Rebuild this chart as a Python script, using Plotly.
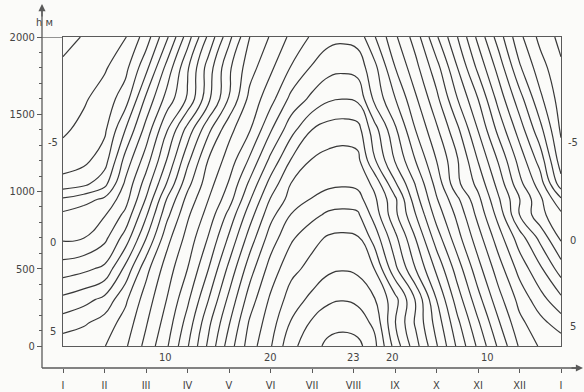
import plotly.graph_objects as go

# ---------------- data ----------------
# month position (0 = 1 January, 12 = 1 January of the next year)
months = [0, 0.5, 1, 1.5, 2, 2.5, 3, 3.5, 4, 4.5, 5, 5.5, 6, 6.4, 6.75, 7.1,
          7.5, 8, 8.5, 9, 9.5, 10, 10.5, 11, 11.5, 12]
# altitude, m
altitudes = [0, 150, 300, 500, 700, 850, 950, 1050, 1200, 1400, 1600, 1800, 2000]

# temperature (deg C) read from the isopleths, one list per altitude
t0000 = [5.6, 5.78, 5.96, 6.84, 8.3, 9.86, 11.9, 14.19, 16.48, 18.5, 19.9, 21.75, 22.55,
         23.3, 23.47, 23.3, 22.3, 19.6, 17.37, 15.1, 12.83, 10.8, 8.8, 6.87, 5.88, 5.6]
t0150 = [4.5, 4.85, 5.43, 6.4, 7.9, 9.44, 11.4, 13.74, 15.92, 18.14, 19.55, 21.1, 22.14,
         22.55, 22.68, 22.5, 21.8, 19.05, 16.84, 14.6, 12.26, 10.15, 8.1, 6.27, 5.31, 4.5]
t0300 = [3.25, 3.66, 4.28, 5.8, 7.48, 9.02, 10.8, 12.97, 15.26, 17.5, 19.17, 20.46, 21.28,
         21.85, 21.96, 21.8, 21.09, 19.37, 16.9, 14.0, 11.53, 9.37, 7.36, 5.68, 4.4, 3.25]
t0500 = [1.5, 1.77, 2.22, 4.25, 6.67, 8.48, 10.0, 11.97, 14.26, 16.56, 18.41, 19.72, 20.31,
         20.8, 20.93, 20.78, 20.0, 17.27, 14.97, 12.78, 10.53, 8.37, 6.45, 4.64, 3.18, 1.5]
t0700 = [-0.18, -0.02, 0.73, 2.4, 4.96, 7.63, 9.36, 11.06, 13.15, 15.44, 17.47, 18.84, 19.7,
         20.12, 20.2, 20.1, 18.6, 16.28, 13.96, 11.5, 9.39, 7.43, 5.44, 3.48, 1.71, -0.18]
t0850 = [-0.78, -0.43, -0.08, 1.25, 3.84, 6.7, 8.82, 10.39, 12.3, 14.56, 16.67, 18.04, 18.69,
         19.2, 19.3, 19.18, 17.6, 15.26, 13.0, 10.6, 8.75, 6.7, 4.6, 2.0, 0.3, -0.78]
t0950 = [-1.85, -1.39, -0.81, 0.58, 3.08, 6.03, 8.33, 9.98, 11.56, 13.89, 16.06, 17.4, 18.07,
         18.4, 18.49, 18.38, 17.22, 15.21, 12.4, 10.1, 8.2, 6.27, 4.1, 2.04, 0.2, -1.85]
t1050 = [-3.6, -3.27, -2.34, 0.18, 2.46, 5.05, 7.67, 9.58, 11.1, 13.22, 15.37, 17.04, 17.38,
         17.8, 17.88, 17.76, 16.75, 14.16, 11.9, 9.64, 7.24, 5.7, 3.6, 1.3, -0.5, -3.6]
t1200 = [-4.54, -4.25, -3.45, -0.63, 1.52, 4.04, 6.75, 9.05, 10.45, 12.18, 14.27, 16.09, 17.08,
         17.33, 17.41, 17.3, 15.12, 12.94, 10.97, 9.0, 7.12, 4.97, 2.87, 0.63, -1.43, -4.54]
t1400 = [-5.16, -4.73, -4.2, -2.0, 0.37, 2.91, 5.38, 7.74, 9.69, 10.93, 12.88, 14.64, 16.0,
         16.45, 16.56, 16.4, 14.43, 12.2, 9.97, 8.18, 6.23, 3.97, 1.67, -0.47, -2.7, -5.16]
t1600 = [-5.5, -5.13, -4.56, -3.5, -0.81, 1.37, 3.13, 5.71, 8.03, 10.31, 11.61, 13.29, 14.24,
         14.85, 14.98, 14.8, 12.78, 11.04, 9.14, 7.27, 5.03, 3.0, 0.6, -1.59, -3.78, -5.5]
t1800 = [-5.83, -5.47, -5.12, -4.3, -2.29, 0.33, 2.86, 5.46, 7.81, 9.59, 10.81, 12.08, 13.11,
         13.65, 13.78, 13.6, 12.33, 10.03, 8.31, 6.4, 4.03, 1.77, -0.4, -2.84, -4.56, -5.83]
t2000 = [-6.3, -5.94, -5.51, -5.08, -3.53, -1.19, 1.5, 4.21, 6.7, 9.0, 10.09, 11.24, 12.14,
         12.68, 12.78, 12.62, 11.1, 9.19, 7.52, 5.14, 3.03, 0.74, -1.5, -3.73, -5.3, -6.3]

temps = [t0000, t0150, t0300, t0500, t0700, t0850, t0950, t1050, t1200, t1400, t1600, t1800, t2000]

month_ticks = list(range(13))
month_labels = ["I", "II", "III", "IV", "V", "VI", "VII", "VIII", "IX", "X", "XI", "XII", "I"]
alt_ticks = [0, 500, 1000, 1500, 2000]

# isotherm labels
bottom_labels = [("10", 2.46), ("20", 4.99), ("23", 6.99), ("20", 7.93), ("10", 10.24)]
left_labels = [("-5", 1314), ("0", 667), ("5", 97)]
right_labels = [("-5", 1314), ("0", 686), ("5", 129)]

# ---------------- figure ----------------
W, H = 584, 392
ML, MR, MT, MB = 42, 9, 37, 24
PW, PH = W - ML - MR, H - MT - MB
xdom = [(63 - ML) / PW, (561 - ML) / PW]
ydom = [(H - MB - 346) / PH, 1.0]

INK = "#383838"
AX = "#5a5a5a"
FONT = "DejaVu Sans Condensed, DejaVu Sans, sans-serif"

fig = go.Figure()
fig.add_trace(go.Contour(
    x=months, y=altitudes, z=temps,
    contours=dict(start=-6, end=23, size=1, coloring="lines", showlabels=False),
    colorscale=[[0, INK], [1, INK]],
    line=dict(width=1.2, smoothing=1.3),
    showscale=False, hoverinfo="skip",
))
fig.add_trace(go.Scatter(x=[], y=[], xaxis="x2", yaxis="y2", showlegend=False))

fig.update_layout(
    width=W, height=H,
    margin=dict(l=ML, r=MR, t=MT, b=MB, pad=0, autoexpand=False),
    paper_bgcolor="#fbfbf9", plot_bgcolor="#fbfbf9",
    showlegend=False,
    xaxis=dict(domain=xdom, range=[0, 12], showgrid=False, zeroline=False,
               showline=True, mirror=True, linecolor=AX, linewidth=1.4,
               ticks="", showticklabels=False, automargin=False),
    yaxis=dict(domain=ydom, range=[0, 2000], showgrid=False, zeroline=False,
               showline=True, mirror=True, linecolor=AX, linewidth=1.4,
               ticks="", showticklabels=False, automargin=False),
    xaxis2=dict(overlaying="x", anchor="free", position=0, side="bottom",
                range=[0, 12], showgrid=False, zeroline=False, showline=False,
                tickmode="array", tickvals=month_ticks, ticktext=month_labels,
                ticks="outside", ticklen=4, tickcolor=AX, tickwidth=1,
                ticklabelstandoff=3, automargin=False,
                tickfont=dict(family=FONT, size=11, color="#444")),
    yaxis2=dict(overlaying="y", anchor="free", position=0, side="left",
                range=[0, 2000], showgrid=False, zeroline=False, showline=False,
                tickmode="array", tickvals=alt_ticks, automargin=False,
                ticks="outside", ticklen=5, tickcolor=AX, tickwidth=1,
                minor=dict(dtick=100, ticks="outside", ticklen=3, tickcolor=AX),
                tickfont=dict(family=FONT, size=11, color="#444")),
)

# axis lines with arrows
fig.add_shape(type="line", xref="paper", yref="paper", x0=0, x1=0, y0=0,
              y1=(H - MB - 8) / PH, line=dict(color=AX, width=1.3))
fig.add_shape(type="line", xref="paper", yref="paper", x0=0, x1=(581 - ML) / PW,
              y0=0, y1=0, line=dict(color=AX, width=1.3))
fig.add_shape(type="line", xref="paper", yref="y", x0=0, x1=xdom[0], y0=2000, y1=2000,
              line=dict(color=AX, width=1.3))
fig.add_annotation(xref="paper", yref="paper", x=0, y=(H - MB - 4) / PH, text="",
                   showarrow=True, ax=0, ay=14, arrowhead=2, arrowsize=1.1,
                   arrowwidth=1.3, arrowcolor=AX)
fig.add_annotation(xref="paper", yref="paper", x=(584 - ML) / PW, y=0, text="",
                   showarrow=True, ax=-14, ay=0, arrowhead=2, arrowsize=1.1,
                   arrowwidth=1.3, arrowcolor=AX)
fig.add_annotation(xref="paper", yref="paper", x=(34 - ML) / PW, y=(H - MB - 14) / PH,
                   text="h м", showarrow=False, font=dict(family=FONT, size=11, color="#444"))

lab_font = dict(family=FONT, size=11, color="#444")
for txt, m in bottom_labels:
    fig.add_annotation(x=m, y=0, xref="x", yref="y", text=txt, showarrow=False,
                       yshift=-11, font=lab_font)
for txt, a in left_labels:
    fig.add_annotation(x=0, y=a, xref="x", yref="y", text=txt, showarrow=False,
                       xshift=-10, font=lab_font)
for txt, a in right_labels:
    fig.add_annotation(x=12, y=a, xref="x", yref="y", text=txt, showarrow=False,
                       xshift=12, font=lab_font)

fig.write_html("out.html")
